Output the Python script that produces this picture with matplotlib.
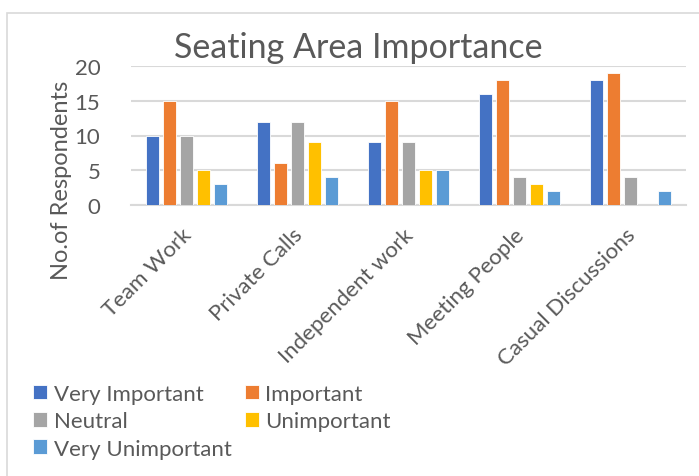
import matplotlib.pyplot as plt
from matplotlib.patches import Rectangle
import numpy as np

categories = ['Team Work', 'Private Calls', 'Independent work', 'Meeting People', 'Casual Discussions']
very_important = [10, 12, 9, 16, 18]
important = [15, 6, 15, 18, 19]
neutral = [10, 12, 9, 4, 4]
unimportant = [5, 9, 5, 3, 0]
very_unimportant = [3, 4, 5, 2, 2]

series = [('Very Important', very_important, '#4472C4'),
          ('Important', important, '#ED7D31'),
          ('Neutral', neutral, '#A5A5A5'),
          ('Unimportant', unimportant, '#FFC000'),
          ('Very Unimportant', very_unimportant, '#5B9BD5')]

plt.rcParams['font.family'] = ['Lato', 'DejaVu Sans']
txt = '#595959'

fig = plt.figure(figsize=(6.99, 4.77), dpi=100)
fig.patches.append(Rectangle((7 / 699, -0.1), 1.2, 1 - 14 / 477 + 0.1, transform=fig.transFigure,
                             fill=False, edgecolor='#D9D9D9', linewidth=1.2))
ax = fig.add_axes([131 / 699, 1 - 206 / 477, 555 / 699, 139 / 477])

x = np.arange(len(categories))
step = 0.153
width = 0.122
handles = []
for i, (name, vals, col) in enumerate(series):
    b = ax.bar(x + (i - 2) * step, vals, width, color=col, edgecolor='white', linewidth=0.6,
               label=name, zorder=3)
    handles.append(b)

ax.set_xlim(-0.5, 4.5)
ax.set_ylim(0, 20)
ax.set_yticks([0, 5, 10, 15, 20])
ax.yaxis.grid(True, color='#D9D9D9', linewidth=1.5, zorder=0)
for s in ['top', 'right', 'left']:
    ax.spines[s].set_visible(False)
ax.spines['bottom'].set_color('#D9D9D9')
ax.spines['bottom'].set_linewidth(1.5)
ax.tick_params(axis='both', length=0, labelcolor=txt, labelsize=16)
ax.tick_params(axis='y', pad=22)
ax.set_xticks(x - 0.05)
ax.set_xticklabels(categories, rotation=45, ha='right', va='top', rotation_mode='anchor')
ax.tick_params(axis='x', pad=14)

fig.text(358 / 699, 1 - 48 / 477, 'Seating Area Importance', ha='center', va='center',
         fontsize=24.5, color=txt)
fig.text(62 / 699, 1 - 180 / 477, 'No.of Respondents', rotation=90, ha='center', va='center',
         fontsize=17, color=txt)

order = [0, 2, 4, 1, 3]
fig.legend([handles[k] for k in order], [series[k][0] for k in order], ncol=2,
           loc='upper left', bbox_to_anchor=(24 / 699, 1 - 376 / 477), frameon=False,
           fontsize=16, labelcolor=txt, handlelength=0.63, handleheight=0.63,
           handletextpad=0.3, columnspacing=0.6, labelspacing=0.33, borderaxespad=0)

fig.savefig('out.png', dpi=100)
